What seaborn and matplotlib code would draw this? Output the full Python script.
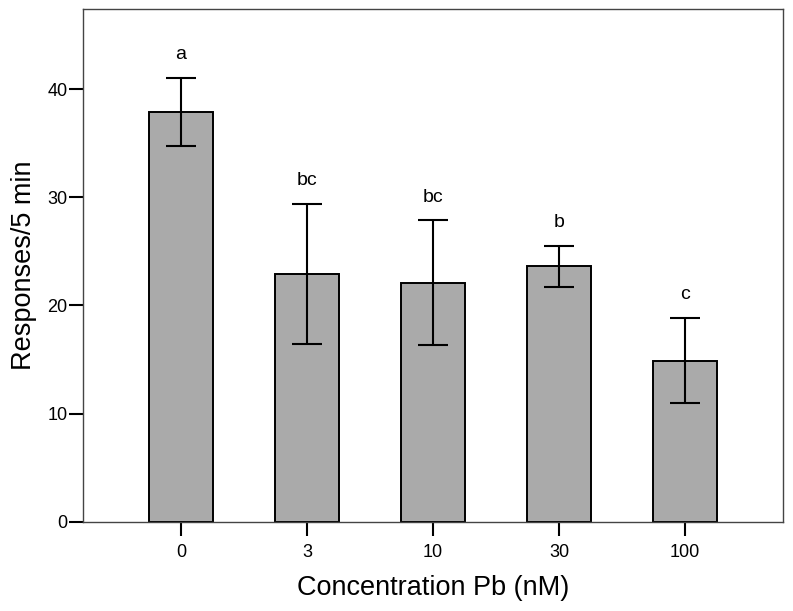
import pandas as pd
import seaborn as sns
import matplotlib.pyplot as plt

# data
conc = ['0', '3', '10', '30', '100']
mean_resp = [37.9, 22.9, 22.1, 23.6, 14.9]
err_resp = [3.15, 6.5, 5.75, 1.9, 3.95]
letters = ['a', 'bc', 'bc', 'b', 'c']

df = pd.DataFrame({'conc': conc, 'resp': mean_resp, 'err': err_resp})

sns.set_style('ticks')
plt.rcParams['font.family'] = ['Liberation Sans', 'DejaVu Sans']
plt.rcParams['text.color'] = 'black'
plt.rcParams['axes.labelcolor'] = 'black'
plt.rcParams['xtick.color'] = 'black'
plt.rcParams['ytick.color'] = 'black'

fig = plt.figure(figsize=(7.93, 6.11), dpi=100)
ax = fig.add_axes([0.1047, 0.1462, 0.8827, 0.8391])

sns.barplot(data=df, x='conc', y='resp', order=conc, color='#aaaaaa',
            saturation=1, width=0.51, edgecolor='black', linewidth=1.4,
            errorbar=None, ax=ax)

# error bars (mean +/- error)
xs = range(len(conc))
ax.errorbar(xs, df['resp'], yerr=df['err'], fmt='none', ecolor='black',
            elinewidth=1.5, capsize=11, capthick=1.5, zorder=5)

# significance letters above the bars
for x, m, e, lab in zip(xs, mean_resp, err_resp, letters):
    ax.annotate(lab, (x, m + e), xytext=(0, 13.5), textcoords='offset points',
                ha='center', va='baseline', fontsize=14)

ax.set_xlim(-0.778, 4.778)
ax.set_ylim(0, 47.4)
ax.set_yticks([0, 10, 20, 30, 40])

for s in ax.spines.values():
    s.set_color('#444444')
    s.set_linewidth(1.0)

ax.tick_params(axis='both', length=10, width=1.5, color='black', labelsize=13)
ax.tick_params(axis='y', pad=1)
ax.tick_params(axis='x', pad=6)

ax.set_xlabel('Concentration Pb (nM)', fontsize=19.5, labelpad=10)
ax.set_ylabel('Responses/5 min', fontsize=19.5, labelpad=8)

fig.savefig('out.png', dpi=100)
